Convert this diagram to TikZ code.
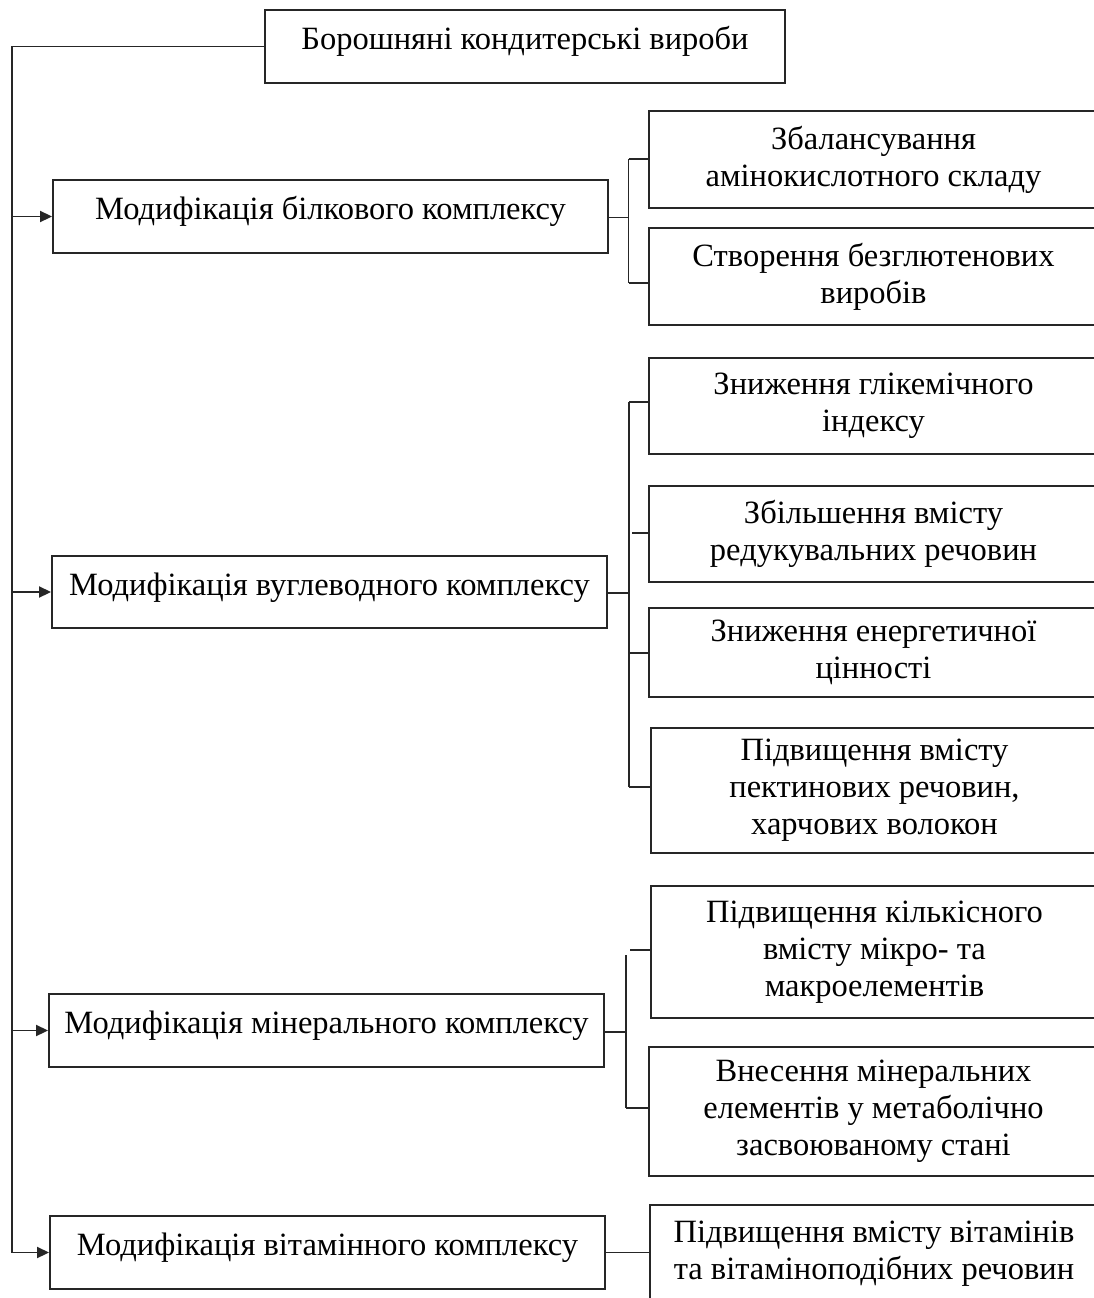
\documentclass[tikz,border=0pt]{standalone}
\usepackage{fontspec}
\setmainfont{Liberation Serif}
\usetikzlibrary{arrows.meta}
\tikzset{
  ln/.style={line width=1.9pt, draw=black!85},
  box/.style={ln, rectangle, inner sep=0pt, font=\fontsize{32.5}{37}\selectfont, align=center},
  mainbox/.style={box, minimum width=555pt, minimum height=73pt, text height=22pt, text depth=16pt},
  subbox/.style={box, minimum width=449pt},
  arr/.style={ln, -{Triangle[length=12pt,width=11pt]}}
}
\begin{document}
\begin{tikzpicture}[x=1pt,y=-1pt]
\useasboundingbox (0,0) rectangle (1094,1298);
\clip (0,0) rectangle (1094,1298);
% main boxes
\node[box, minimum width=520pt, minimum height=73pt, text height=22pt, text depth=16pt] (top) at (525,46.5) {Борошняні кондитерські вироби};
\node[mainbox] (prot) at (330.5,216.5) {Модифікація білкового комплексу};
\node[mainbox, minimum height=72pt] (carb) at (329.5,592) {Модифікація вуглеводного комплексу};
\node[mainbox] (min) at (326.5,1030.5) {Модифікація мінерального комплексу};
\node[mainbox] (vit) at (327.5,1252.5) {Модифікація вітамінного комплексу};
% sub boxes
\node[subbox, minimum height=97pt] (r1) at (873.5,159.5) {Збалансування\\амінокислотного складу};
\node[subbox, minimum height=97pt] (r2) at (873.5,276.5) {Створення безглютенових\\виробів};
\node[subbox, minimum height=96pt] (r3) at (873.5,406) {Зниження глікемічного\\індексу};
\node[subbox, minimum height=96pt] (r4) at (873.5,534) {Збільшення вмісту\\редукувальних речовин};
\node[subbox, minimum height=89pt] (r5) at (873.5,652.5) {Зниження енергетичної\\цінності};
\node[subbox, minimum width=447pt, minimum height=125pt] (r6) at (874.5,790.5) {Підвищення вмісту\\пектинових речовин,\\харчових волокон};
\node[subbox, minimum width=447pt, minimum height=132pt] (r7) at (874.5,952) {Підвищення кількісного\\вмісту мікро- та\\макроелементів};
\node[subbox, minimum height=129pt] (r8) at (873.5,1111.5) {Внесення мінеральних\\елементів у метаболічно\\засвоюваному стані};
\node[subbox, minimum width=448pt, minimum height=97pt] (r9) at (874,1253.5) {Підвищення вмісту вітамінів\\та вітаміноподібних речовин};
% trunk
\coordinate (t0) at (12,46.5);
\draw[arr] (top.west) -- (t0) |- (vit.west);
\draw[arr] (t0 |- prot.west) -- (prot.west);
\draw[arr] (t0 |- carb.west) -- (carb.west);
\draw[arr] (t0 |- min.west) -- (min.west);
% group 1
\coordinate (g1) at (628.5,217.5);
\coordinate (g1a) at (628.5,159);
\coordinate (g1b) at (628.5,283);
\draw[ln] (prot.east |- g1) -- (g1);
\draw[ln] (g1a) -- (g1b);
\draw[ln] (g1a) -- (g1a -| r1.west);
\draw[ln] (g1b) -- (g1b -| r2.west);
% group 2
\coordinate (g2) at (629,593);
\coordinate (g2a) at (629,402);
\coordinate (g2b) at (629,787);
\coordinate (g2c) at (632,533);
\coordinate (g2d) at (629,653);
\draw[ln] (carb.east |- g2) -- (g2);
\draw[ln] (g2a) -- (g2b);
\draw[ln] (g2a) -- (g2a -| r3.west);
\draw[ln] (g2c) -- (g2c -| r4.west);
\draw[ln] (g2d) -- (g2d -| r5.west);
\draw[ln] (g2b) -- (g2b -| r6.west);
% group 3
\coordinate (g3) at (626,1032);
\coordinate (g3a) at (626,955);
\coordinate (g3b) at (626,1108);
\coordinate (g3c) at (630,950);
\draw[ln] (min.east |- g3) -- (g3);
\draw[ln] (g3a) -- (g3b);
\draw[ln] (g3c) -- (g3c -| r7.west);
\draw[ln] (g3b) -- (g3b -| r8.west);
% group 4
\draw[ln] (vit.east) -- (vit.east -| r9.west);
\end{tikzpicture}
\end{document}
